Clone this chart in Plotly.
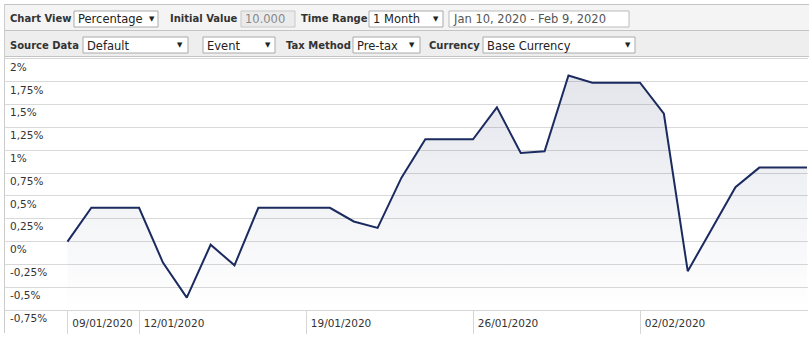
import plotly.graph_objects as go

# ---------------- data ----------------
dates = ["2020-01-09", "2020-01-10", "2020-01-11", "2020-01-12", "2020-01-13", "2020-01-14",
         "2020-01-15", "2020-01-16", "2020-01-17", "2020-01-18", "2020-01-19", "2020-01-20",
         "2020-01-21", "2020-01-22", "2020-01-23", "2020-01-24", "2020-01-25", "2020-01-26",
         "2020-01-27", "2020-01-28", "2020-01-29", "2020-01-30", "2020-01-31", "2020-02-01",
         "2020-02-02", "2020-02-03", "2020-02-04", "2020-02-05", "2020-02-06", "2020-02-07",
         "2020-02-08", "2020-02-09"]
values = [0.00, 0.37, 0.37, 0.37, -0.23, -0.615, -0.035, -0.26, 0.37, 0.37, 0.37, 0.37,
          0.22, 0.15, 0.70, 1.12, 1.12, 1.12, 1.47, 0.97, 0.99, 1.82, 1.74, 1.74,
          1.74, 1.40, -0.325, 0.135, 0.595, 0.81, 0.81, 0.81]

x_tick_dates = ["2020-01-09", "2020-01-12", "2020-01-19", "2020-01-26", "2020-02-02"]
y_tick_vals = [2.0, 1.75, 1.5, 1.25, 1.0, 0.75, 0.5, 0.25, 0.0, -0.25, -0.5, -0.75]
y_tick_text = ["2%", "1,75%", "1,5%", "1,25%", "1%", "0,75%", "0,5%", "0,25%", "0%",
               "-0,25%", "-0,5%", "-0,75%"]
x_range = ["2020-01-06 09:07", "2020-02-09 01:00"]
y_min, y_max = min(y_tick_vals), max(y_tick_vals)

# ---------------- geometry helpers (pixels -> paper) ----------------
W, H = 809, 340
ML, MR, MT, MB = 5, 1, 59, 30
PW, PH = W - ML - MR, H - MT - MB


def px(x):
    return (x - ML) / PW


def py(y):
    return (H - MB - y) / PH


FONT = "DejaVu Sans"
LINE = "#1b2a5f"

fig = go.Figure()
fig.add_trace(go.Scatter(x=dates, y=[y_min] * len(dates), mode="lines",
                         line=dict(width=0, color="rgba(0,0,0,0)"), hoverinfo="skip",
                         showlegend=False))
fig.add_trace(go.Scatter(
    x=dates, y=values, mode="lines", line=dict(color=LINE, width=2),
    fill="tonexty",
    fillgradient=dict(type="vertical", start=y_min, stop=y_max,
                      colorscale=[[0, "rgba(27,42,95,0.0)"], [1, "rgba(27,42,95,0.13)"]]),
    showlegend=False))

shapes = []
annotations = []

# toolbar backgrounds
shapes.append(dict(type="rect", xref="paper", yref="paper", x0=px(4.5), x1=px(809), y0=py(4), y1=py(30),
                   fillcolor="#f4f4f4", line=dict(width=0), layer="below"))
shapes.append(dict(type="rect", xref="paper", yref="paper", x0=px(4.5), x1=px(809), y0=py(30), y1=py(57),
                   fillcolor="#eeeeee", line=dict(width=0), layer="below"))
for yy in (4.5, 30.5, 56.5):
    shapes.append(dict(type="line", xref="paper", yref="paper", x0=px(4.5), x1=px(809), y0=py(yy), y1=py(yy),
                       line=dict(color="#c4c4c4", width=1)))
# left border
shapes.append(dict(type="line", xref="paper", yref="paper", x0=px(4.5), x1=px(4.5), y0=py(4), y1=py(333),
                   line=dict(color="#cccccc", width=1)))


def label(text, x, yc):
    annotations.append(dict(text="<b>%s</b>" % text, xref="paper", yref="paper", x=px(x), y=py(yc),
                            xanchor="left", yanchor="middle", showarrow=False,
                            font=dict(family=FONT, size=10, color="#333333")))


def box(x0, x1, y0, y1, text, fill="#ffffff", tcolor="#222222", arrow=None, border="#aaaaaa"):
    shapes.append(dict(type="rect", xref="paper", yref="paper", x0=px(x0), x1=px(x1), y0=py(y0), y1=py(y1),
                       fillcolor=fill, line=dict(color=border, width=1)))
    yc = (y0 + y1) / 2
    annotations.append(dict(text=text, xref="paper", yref="paper", x=px(x0 + 2), y=py(yc + 0.5),
                            xanchor="left", yanchor="middle", showarrow=False,
                            font=dict(family=FONT, size=11.5, color=tcolor)))
    if arrow is not None:
        annotations.append(dict(text="▼", xref="paper", yref="paper", x=px(arrow), y=py(yc),
                                xanchor="center", yanchor="middle", showarrow=False,
                                font=dict(family=FONT, size=7, color="#222222")))


# row 1
label("Chart View", 8, 19)
box(74, 158, 11, 27, "Percentage", arrow=152)
label("Initial Value", 168, 19)
box(241, 295, 11, 27, "10.000", fill="#ebebeb", tcolor="#888888", border="#c8c8c8")
label("Time Range", 299, 19)
box(369, 443, 11, 27, "1 Month", arrow=436)
box(449, 629, 11, 27, "Jan 10, 2020 - Feb 9, 2020", tcolor="#555555", border="#bbbbbb")
# row 2
label("Source Data", 8, 45)
box(83, 188, 37, 53, "Default", arrow=180)
box(203, 275, 37, 53, "Event", arrow=268)
label("Tax Method", 284, 45)
box(353, 420, 37, 53, "Pre-tax", arrow=412)
label("Currency", 427, 45)
box(483, 635, 37, 53, "Base Currency", arrow=628)

fig.update_layout(
    width=W, height=H,
    margin=dict(l=ML, r=MR, t=MT, b=MB, pad=0),
    paper_bgcolor="white", plot_bgcolor="white",
    shapes=shapes, annotations=annotations,
    showlegend=False,
    xaxis=dict(type="date", range=x_range, tickvals=x_tick_dates, tickformat="%d/%m/%Y",
               ticks="outside", ticklen=23, tickcolor="#d6d6d6", tickwidth=1,
               showgrid=False, showline=True, mirror=True, linecolor="#d6d6d6", linewidth=1,
               ticklabelshift=35, ticklabelstandoff=-20,
               tickfont=dict(family=FONT, size=10.5, color="#333333"), fixedrange=True),
    yaxis=dict(range=[y_min, y_max], tickvals=y_tick_vals, ticktext=y_tick_text,
               showgrid=True, gridcolor="#d9d9d9", gridwidth=1, zeroline=False, showline=False,
               ticks="", ticklabelposition="inside", ticklabelshift=8, ticklabelstandoff=2,
               ticklabeloverflow="allow",
               tickfont=dict(family=FONT, size=10.5, color="#333333"), fixedrange=True),
)

fig.write_html("out.html")
